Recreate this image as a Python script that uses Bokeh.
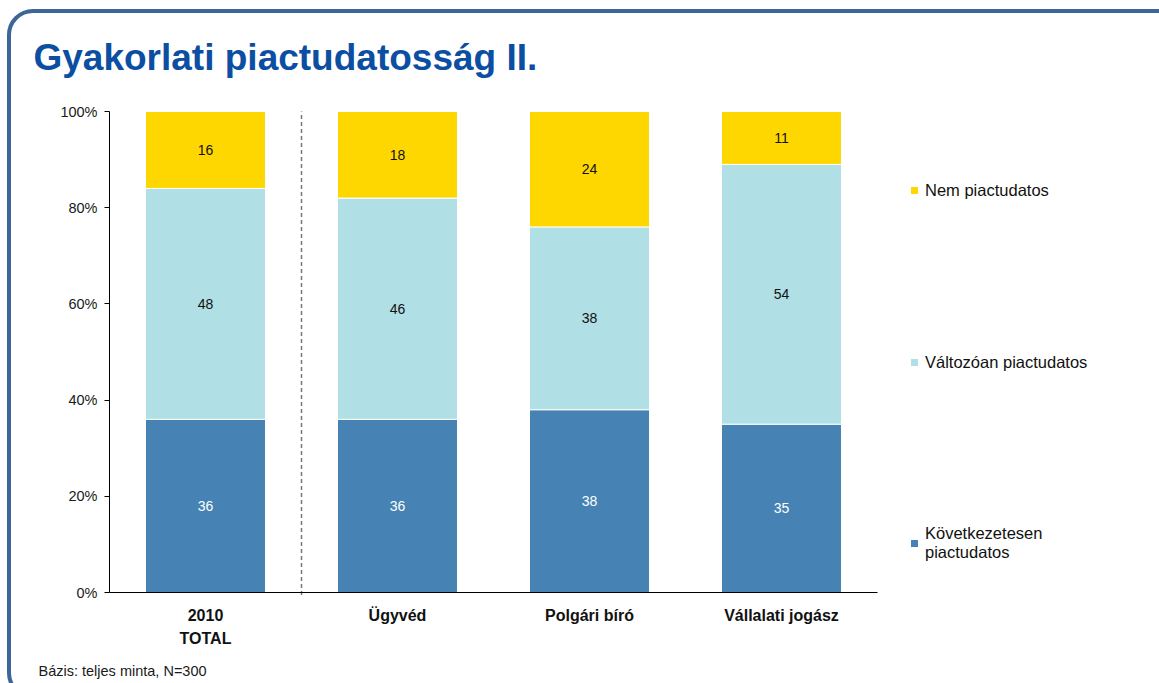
from bokeh.plotting import figure
from bokeh.models import (Range1d, FixedTicker, PrintfTickFormatter, LinearAxis,
                          Legend, LegendItem, Label, ColumnDataSource, InlineStyleSheet)
from bokeh.core.properties import value
from bokeh.embed import file_html
from bokeh.resources import INLINE

# ---- data ----
categories = ["2010\nTOTAL", "Ügyvéd", "Polgári bíró", "Vállalati jogász"]
series_names = ["Következetesen\npiactudatos", "Változóan piactudatos", "Nem piactudatos"]
kovetkezetesen = [36, 36, 38, 35]
valtozoan = [48, 46, 38, 54]
nem = [16, 18, 24, 11]
y_ticks = [0, 20, 40, 60, 80, 100]
title_text = "Gyakorlati piactudatosság II."
footer_text = "Bázis: teljes minta, N=300"

colors = ["#4682B4", "#B0DFE5", "#FFD700"]
FONT = "Liberation Sans"
W, H = 1159, 683

# ---- layout: plot area in pixels (frame covers the whole canvas) ----
PL, PR, PT, PB = 109, 877, 111, 592          # plot-area box in canvas pixels
ncat = len(categories)
px_per_x = (PR - PL) / ncat
px_per_y = (PB - PT) / (y_ticks[-1] - y_ticks[0])
x_start = -PL / px_per_x
x_end = x_start + W / px_per_x
y_end = y_ticks[-1] + PT / px_per_y
y_start = y_end - H / px_per_y

xs = [i + 0.5 for i in range(ncat)]
keys = ["k", "v", "n"]
src = ColumnDataSource(dict(x=xs, k=kovetkezetesen, v=valtozoan, n=nem))

p = figure(width=W, height=H, x_range=Range1d(x_start, x_end), y_range=Range1d(y_start, y_end),
           output_backend="svg", toolbar_location=None, title=None,
           x_axis_location=None, y_axis_location=None,
           min_border_left=0, min_border_right=0, min_border_top=0, min_border_bottom=0)
p.outline_line_color = None
p.xgrid.grid_line_color = None
p.ygrid.grid_line_color = None

rs = p.vbar_stack(keys, x="x", width=0.625, color=colors, source=src,
                  line_color="white", line_width=1)

# value labels at segment centres
lx, ly, lt, lc = [], [], [], []
for i in range(ncat):
    base = 0
    for vals, col in ((kovetkezetesen, "white"), (valtozoan, "#111111"), (nem, "#111111")):
        lx.append(xs[i]); ly.append(base + vals[i] / 2); lt.append(str(vals[i])); lc.append(col)
        base += vals[i]
p.text(x=lx, y=ly, text=lt, text_color=lc, text_align="center", text_baseline="middle",
       text_font=value(FONT), text_font_size="14px")

# dashed separator between total and the groups
p.segment(x0=[1], y0=[y_ticks[0] - 0.5], x1=[1], y1=[y_ticks[-1]],
          line_color="#777777", line_dash="4 3", line_width=1.5)

# axes
yaxis = LinearAxis(fixed_location=0, bounds=(y_ticks[0], y_ticks[-1]),
                   ticker=FixedTicker(ticks=y_ticks), formatter=PrintfTickFormatter(format="%d%%"))
yaxis.minor_tick_line_color = None
yaxis.major_tick_out = 5
yaxis.major_tick_in = 0
yaxis.major_label_standoff = 7
yaxis.axis_line_color = "black"
yaxis.major_tick_line_color = "black"
yaxis.major_label_text_font = FONT
yaxis.major_label_text_font_size = "14.5px"
yaxis.major_label_text_color = "#1a1a1a"
p.add_layout(yaxis, "left")

xaxis = LinearAxis(fixed_location=0, bounds=(0, ncat), ticker=FixedTicker(ticks=xs),
                   major_label_overrides={x: c for x, c in zip(xs, categories)})
xaxis.minor_tick_line_color = None
xaxis.major_tick_line_color = None
xaxis.major_tick_out = 0
xaxis.major_tick_in = 0
xaxis.major_label_standoff = 14
xaxis.axis_line_color = "black"
xaxis.major_label_text_font = FONT
xaxis.major_label_text_font_style = "bold"
xaxis.major_label_text_font_size = "16px"
xaxis.major_label_text_line_height = 1.4
xaxis.major_label_text_color = "#111111"
p.add_layout(xaxis, "below")

# legend
items = [LegendItem(label=series_names[2], renderers=[rs[2]]),
         LegendItem(label=series_names[1], renderers=[rs[1]]),
         LegendItem(label=series_names[0], renderers=[rs[0]])]
legend = Legend(items=items, location=(909, 121), margin=0, padding=0,
                border_line_alpha=0, background_fill_alpha=0,
                glyph_width=10, glyph_height=10, label_standoff=6,
                label_height=20, spacing=152,
                label_text_font=FONT, label_text_font_size="16.5px", label_text_color="#111111")
p.add_layout(legend, "center")

# title and footer
p.add_layout(Label(x=33, y=H - 57, x_units="screen", y_units="screen", text=title_text,
                   text_font=FONT, text_font_style="bold", text_font_size="37px",
                   text_color="#0B4EA2", text_baseline="alphabetic"))
p.add_layout(Label(x=38, y=H - 670, x_units="screen", y_units="screen", text=footer_text,
                   text_font=FONT, text_font_size="14.5px", text_color="#1a1a1a",
                   text_baseline="alphabetic"))

# rounded frame around the slide
p.stylesheets = [InlineStyleSheet(css="""
:host { overflow: hidden; position: relative; }
:host::after { content: ""; position: absolute; left: 7px; top: 9px; width: 1180px; height: 690px;
  border: 4px solid #3D6696; border-radius: 26px; pointer-events: none; box-sizing: border-box; }
""")]

open("out.html", "w").write(file_html(p, INLINE))
